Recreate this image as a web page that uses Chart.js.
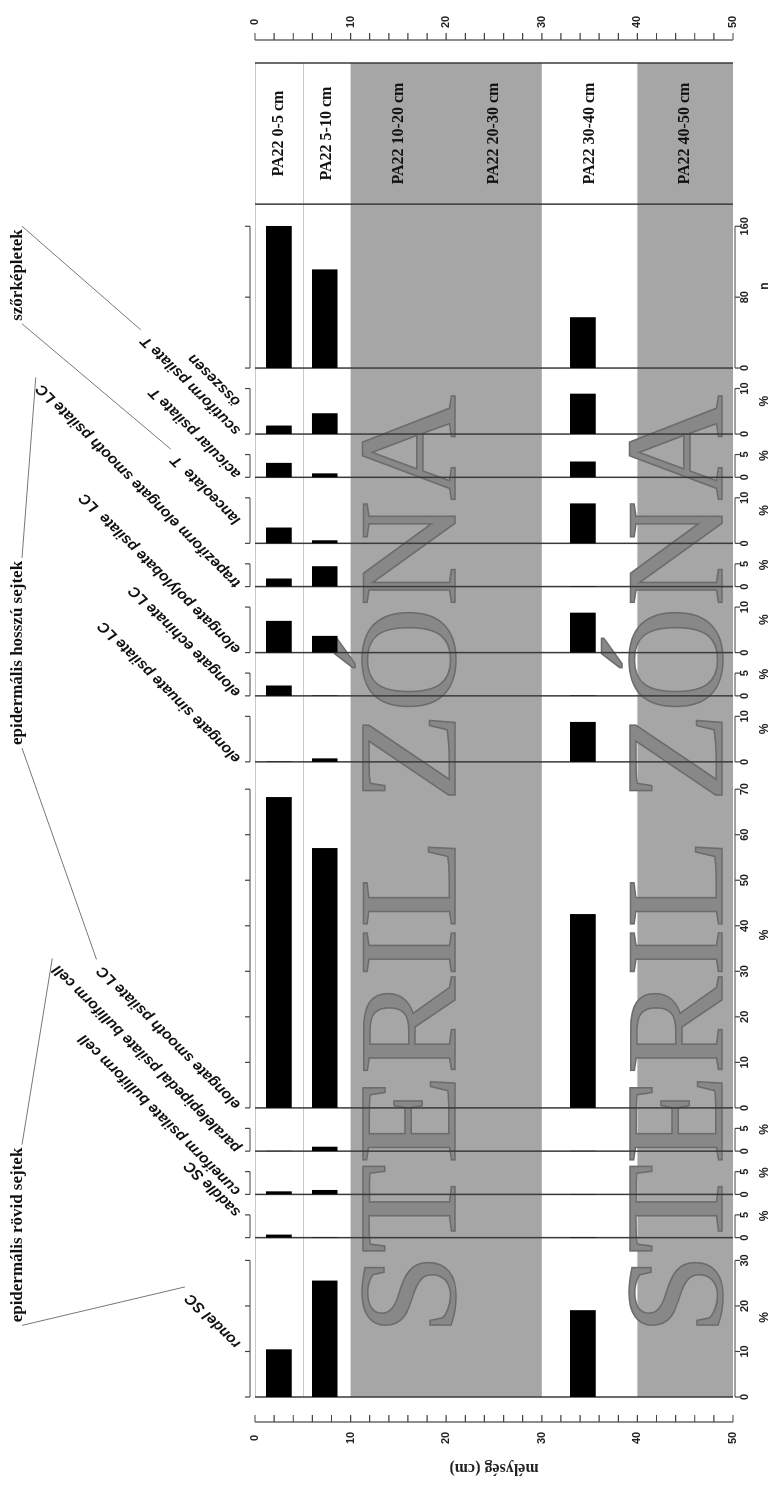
<!DOCTYPE html>
<html>
<head>
<meta charset="utf-8">
<script src="https://cdn.jsdelivr.net/npm/chart.js@4.4.0/dist/chart.umd.min.js"></script>
<style>
html, body { margin: 0; padding: 0; background: #fff; width: 774px; height: 1488px; overflow: hidden; }
/* the diagram is drawn upright (depth down the page) and turned a quarter left */
#wrap { position: absolute; left: 0; top: 0; width: 1488px; height: 774px; transform-origin: 0 0; transform: translate(0, 1488px) rotate(-90deg); }
</style>
</head>
<body>
<div id="wrap"><canvas id="chart" width="1488" height="774"></canvas></div>
<script>
// samples (depth midpoints in cm)
var depths = [2.5, 7.3, 34.3];
var headerLabels = ["PA22 0-5 cm", "PA22 5-10 cm", "PA22 10-20 cm", "PA22 20-30 cm", "PA22 30-40 cm", "PA22 40-50 cm"];
var headerDepths = [2.5, 7.5, 15, 25, 35, 45];
var sterileZones = [[10, 30], [40, 50]];
var depthLabels = [0, 10, 20, 30, 40, 50];

var taxa = [
	"rondel SC",
	"saddle SC",
	"cuneiform psilate bulliform cell",
	"paralelepipedal psilate bulliform cell",
	"elongate smooth psilate LC",
	"elongate sinuate psilate LC",
	"elongate echinate LC",
	"elongate polylobate psilate  LC",
	"trapeziform elongate smooth psilate LC",
	"lanceolate  T",
	"acicular psilate T",
	"scutiform psilate T",
	"összesen"
];

// percentages per sample (0-5, 5-10, 30-40 cm); összesen is a count
var rondel = [10.4, 25.5, 19.0];
var saddle = [0.6, 0, 0];
var cuneiform = [0.6, 0.9, 0];
var paralelepipedal = [0, 0.9, 0];
var elongateSmooth = [68.2, 57.0, 42.5];
var elongateSinuate = [0, 0.7, 8.7];
var elongateEchinate = [2.2, 0, 0];
var elongatePolylobate = [6.9, 3.6, 8.7];
var trapeziform = [1.7, 4.4, 0];
var lanceolate = [3.4, 0.6, 8.7];
var acicular = [3.1, 0.8, 3.4];
var scutiform = [1.8, 4.5, 8.8];
var osszesen = [160, 111, 57];

var values = [rondel, saddle, cuneiform, paralelepipedal, elongateSmooth, elongateSinuate, elongateEchinate,
	elongatePolylobate, trapeziform, lanceolate, acicular, scutiform, osszesen];

var units = ["%", "%", "%", "%", "%", "%", "%", "%", "%", "%", "%", "%", "n"];
var axisMax = [35, 9.5, 9.5, 9.5, 76, 14.5, 9.5, 14.5, 9.5, 14.5, 9.5, 14.5, 185];
var tickTop = [30, 5, 5, 5, 70, 10, 5, 10, 5, 10, 5, 10, 160];
var tickStep = [10, 5, 5, 5, 10, 10, 5, 10, 5, 10, 5, 10, 40];
// sideways nudge of each slanted name from its panel edge (px)
var labelShift = [50, 22, 0, 0, 0, 0, 0, 0, 0, 20, 0, 0, -37];

var groups = [
	{ label: "epidermális rövid sejtek", x: 253, first: 0, last: 3 },
	{ label: "epidermális hosszú sejtek", x: 835, first: 4, last: 8 },
	{ label: "szőrképletek", x: 1213, first: 9, last: 11 }
];

var FONT_NUM = "'Liberation Sans Narrow', 'Liberation Sans', sans-serif";
var FONT_SERIF = "'Liberation Serif', serif";

var panelIds = taxa.map(function (t, i) { return "p" + i; });

var scales = {
	y: { type: "linear", min: 0, max: 50, reverse: true, offset: false, display: false }
};
panelIds.forEach(function (id, i) {
	scales[id] = {
		type: "linear",
		position: "bottom",
		stack: "panels",
		stackWeight: units[i] === "n" ? 36 : axisMax[i],
		min: 0,
		max: axisMax[i],
		grid: { display: false, drawTicks: false },
		border: { display: false },
		afterBuildTicks: function (ax) {
			ax.ticks = ax.ticks.filter(function (t) { return t.value <= tickTop[i] + 1e-6; });
		},
		ticks: {
			stepSize: tickStep[i],
			includeBounds: false,
			maxRotation: 0,
			padding: 5.5,
			color: "#222",
			font: { family: FONT_NUM, weight: "bold", size: 11 }
		},
		title: {
			display: true,
			text: units[i],
			color: "#222",
			padding: { top: 0, bottom: 0 },
			font: { family: FONT_NUM, weight: "bold", size: 12 }
		}
	};
});
// empty slot for the sample-name column
scales.hdr = {
	type: "linear", position: "bottom", stack: "panels", stackWeight: 31, min: 0, max: 1,
	grid: { display: false, drawTicks: false }, border: { display: false }, ticks: { display: false }
};

var datasets = values.map(function (vals, i) {
	return {
		label: taxa[i],
		data: depths.map(function (d, j) { return { x: vals[j], y: d }; }),
		xAxisID: panelIds[i],
		yAxisID: "y",
		backgroundColor: "#000",
		borderWidth: 0,
		barThickness: 25,
		grouped: false
	};
});

var backdrop = {
	id: "backdrop",
	beforeDatasetsDraw: function (chart) {
		var ctx = chart.ctx;
		var a = chart.chartArea;
		var y = chart.scales.y;
		ctx.save();
		ctx.fillStyle = "#fff";
		ctx.fillRect(a.left, a.top, a.right - a.left, a.bottom - a.top);

		// sterile zones
		ctx.fillStyle = "#a6a6a6";
		sterileZones.forEach(function (z) {
			var y0 = y.getPixelForValue(z[0]);
			var y1 = y.getPixelForValue(z[1]);
			ctx.fillRect(a.left, y0, a.right - a.left, y1 - y0);
		});
		ctx.fillStyle = "#888";
		ctx.strokeStyle = "#6c6c6c";
		ctx.lineWidth = 1.5;
		ctx.font = "140px " + FONT_SERIF;
		ctx.textBaseline = "alphabetic";
		ctx.textAlign = "left";
		var txt = "STERIL ZÓNA";
		var w = ctx.measureText(txt).width;
		[20.9, 48.8].forEach(function (d) {
			ctx.save();
			ctx.translate(a.left + 62, y.getPixelForValue(d));
			ctx.scale(940 / w, 1);
			ctx.fillText(txt, 0, 0);
			ctx.strokeText(txt, 0, 0);
			ctx.restore();
		});

		// light sample divisions
		ctx.strokeStyle = "#c8c8c8";
		ctx.lineWidth = 1;
		[0, 5].forEach(function (d) {
			var py = Math.round(y.getPixelForValue(d)) + 0.5;
			ctx.beginPath();
			ctx.moveTo(a.left, py);
			ctx.lineTo(a.right, py);
			ctx.stroke();
		});

		// panel edges
		ctx.strokeStyle = "#3a3a3a";
		ctx.lineWidth = 1.5;
		var edges = panelIds.map(function (id) { return chart.scales[id].getPixelForValue(0); });
		edges.push(chart.scales.hdr.left, a.right);
		edges.forEach(function (px) {
			ctx.beginPath();
			ctx.moveTo(px, a.top);
			ctx.lineTo(px, a.bottom);
			ctx.stroke();
		});

		// sample names
		ctx.fillStyle = "#111";
		ctx.font = "bold 16px " + FONT_SERIF;
		ctx.textAlign = "center";
		ctx.textBaseline = "middle";
		var hx = (chart.scales.hdr.left + a.right) / 2;
		headerLabels.forEach(function (t, i) {
			ctx.fillText(t, hx, y.getPixelForValue(headerDepths[i]));
		});
		ctx.restore();
	},
	afterDraw: function (chart) {
		var ctx = chart.ctx;
		var a = chart.chartArea;
		var y = chart.scales.y;
		ctx.save();
		ctx.strokeStyle = "#444";
		ctx.lineWidth = 1.2;

		// value-axis brackets, bottom (labelled) and top (bare)
		panelIds.forEach(function (id) {
			var s = chart.scales[id];
			var x0 = s.getPixelForValue(0);
			var x1 = s.getPixelForValue(s.ticks[s.ticks.length - 1].value);
			[[a.bottom + 2, 5], [a.top - 5, -5]].forEach(function (b) {
				ctx.beginPath();
				ctx.moveTo(x0, b[0]);
				ctx.lineTo(x1, b[0]);
				s.ticks.forEach(function (t) {
					var px = s.getPixelForValue(t.value);
					ctx.moveTo(px, b[0]);
					ctx.lineTo(px, b[0] + b[1]);
				});
				ctx.stroke();
			});
		});

		// depth axes on both sides
		var yTop = y.getPixelForValue(0);
		var yBot = y.getPixelForValue(50);
		ctx.font = "bold 11px " + FONT_NUM;
		ctx.fillStyle = "#222";
		ctx.textBaseline = "middle";
		[[66, 7, 50], [1448, 7, 1466]].forEach(function (ax) {
			ctx.beginPath();
			ctx.moveTo(ax[0], yTop);
			ctx.lineTo(ax[0], yBot);
			for (var d = 0; d <= 50; d += 2) {
				var py = y.getPixelForValue(d);
				ctx.moveTo(ax[0], py);
				ctx.lineTo(ax[0] + ax[1], py);
			}
			ctx.stroke();
			ctx.textAlign = "center";
			depthLabels.forEach(function (d) {
				ctx.fillText(String(d), ax[2], y.getPixelForValue(d));
			});
		});
		ctx.save();
		ctx.translate(20, y.getPixelForValue(25));
		ctx.rotate(-Math.PI / 2);
		ctx.font = "bold 16px " + FONT_SERIF;
		ctx.textAlign = "center";
		ctx.fillText("mélység (cm)", 0, 0);
		ctx.restore();

		// slanted taxon names
		ctx.font = "italic bold 15px " + FONT_NUM;
		ctx.fillStyle = "#111";
		ctx.textAlign = "left";
		ctx.textBaseline = "alphabetic";
		var ends = [];
		panelIds.forEach(function (id, i) {
			var s = chart.scales[id];
			var x0 = s.getPixelForValue(0) + 4 + labelShift[i];
			var y0 = a.top - 14;
			var len = ctx.measureText(taxa[i]).width;
			ends.push([x0 + len * Math.SQRT1_2 + 6, y0 - len * Math.SQRT1_2 - 6]);
			ctx.save();
			ctx.translate(x0, y0);
			ctx.rotate(-Math.PI / 4);
			ctx.fillText(taxa[i], 0, 0);
			ctx.restore();
		});

		// group names with leader lines
		ctx.font = "bold 17px " + FONT_SERIF;
		ctx.textAlign = "center";
		ctx.strokeStyle = "#777";
		ctx.lineWidth = 1;
		groups.forEach(function (g) {
			var half = ctx.measureText(g.label).width / 2;
			ctx.fillText(g.label, g.x, 22);
			ctx.beginPath();
			ctx.moveTo(g.x - half - 3, 22);
			ctx.lineTo(ends[g.first][0], ends[g.first][1]);
			ctx.moveTo(g.x + half + 3, 22);
			ctx.lineTo(ends[g.last][0], ends[g.last][1]);
			ctx.stroke();
		});
		ctx.restore();
	}
};

new Chart(document.getElementById("chart").getContext("2d"), {
	type: "bar",
	data: { datasets: datasets },
	options: {
		indexAxis: "y",
		responsive: false,
		animation: false,
		layout: { padding: { left: 91, right: 63, top: 255, bottom: 2.4 } },
		plugins: { legend: { display: false }, tooltip: { enabled: false } },
		scales: scales
	},
	plugins: [backdrop]
});
</script>
</body>
</html>
